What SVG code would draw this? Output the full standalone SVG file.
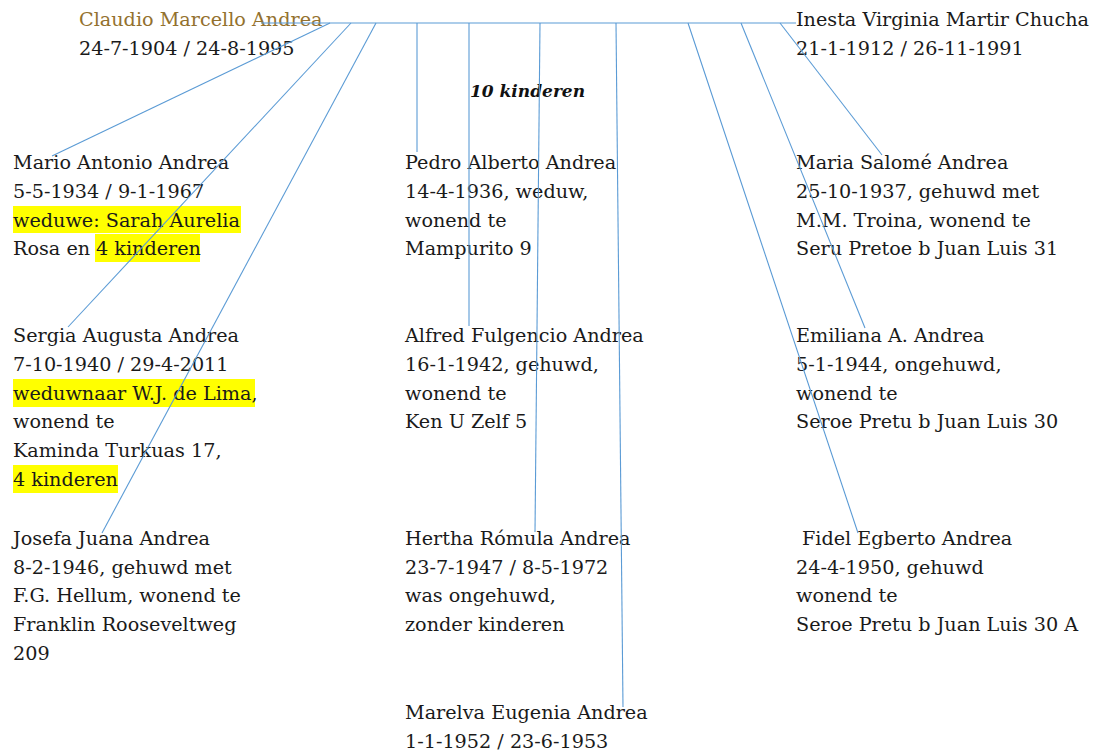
<svg xmlns="http://www.w3.org/2000/svg" width="1094" height="752" viewBox="0 0 1094 752">
<style>
text{font-family:"DejaVu Serif","Liberation Serif",serif;font-size:19.2px;fill:#1a1a1a}
.parent{fill:#93712e}
.count{font-weight:bold;font-style:italic;font-size:17px;fill:#111}
.hl{fill:#ffff00}
.con line{stroke:#5b9bd5;stroke-width:1.1;fill:none}
</style>
<rect width="1094" height="752" fill="#ffffff"/>
<g id="highlights">
<rect class="hl" x="13" y="206" width="228" height="27"/>
<rect class="hl" x="95" y="234" width="105" height="28"/>
<rect class="hl" x="13" y="379" width="242" height="28"/>
<rect class="hl" x="13" y="465" width="105" height="28"/>
</g>
<g id="father">
<text x="79" y="26" class="parent">Claudio Marcello Andrea</text>
<text x="79" y="54.5">24-7-1904 / 24-8-1995</text>
</g>
<g id="mother">
<text x="796" y="26">Inesta Virginia Martir Chucha</text>
<text x="796" y="54.5">21-1-1912 / 26-11-1991</text>
</g>
<g id="count">
<text x="470" y="97" class="count">10 kinderen</text>
</g>
<g id="mario">
<text x="13" y="169">Mario Antonio Andrea</text>
<text x="13" y="198">5-5-1934 / 9-1-1967</text>
<text x="13" y="227">weduwe: Sarah Aurelia</text>
<text x="13" y="255">Rosa en <tspan x="96">4 kinderen</tspan></text>
</g>
<g id="pedro">
<text x="405" y="169">Pedro Alberto Andrea</text>
<text x="405" y="198">14-4-1936, weduw,</text>
<text x="405" y="227">wonend te</text>
<text x="405" y="255">Mampurito 9</text>
</g>
<g id="maria">
<text x="796" y="169">Maria Salomé Andrea</text>
<text x="796" y="198">25-10-1937, gehuwd met</text>
<text x="796" y="227">M.M. Troina, wonend te</text>
<text x="796" y="255">Seru Pretoe b Juan Luis 31</text>
</g>
<g id="sergia">
<text x="13" y="342">Sergia Augusta Andrea</text>
<text x="13" y="371">7-10-1940 / 29-4-2011</text>
<text x="13" y="400">weduwnaar W.J. de Lima,</text>
<text x="13" y="428">wonend te</text>
<text x="13" y="457">Kaminda Turkuas 17,</text>
<text x="13" y="486">4 kinderen</text>
</g>
<g id="alfred">
<text x="405" y="342">Alfred Fulgencio Andrea</text>
<text x="405" y="371">16-1-1942, gehuwd,</text>
<text x="405" y="400">wonend te</text>
<text x="405" y="428">Ken U Zelf 5</text>
</g>
<g id="emiliana">
<text x="796" y="342">Emiliana A. Andrea</text>
<text x="796" y="371">5-1-1944, ongehuwd,</text>
<text x="796" y="400">wonend te</text>
<text x="796" y="428">Seroe Pretu b Juan Luis 30</text>
</g>
<g id="josefa">
<text x="13" y="545">Josefa Juana Andrea</text>
<text x="13" y="574">8-2-1946, gehuwd met</text>
<text x="13" y="602">F.G. Hellum, wonend te</text>
<text x="13" y="631">Franklin Rooseveltweg</text>
<text x="13" y="660">209</text>
</g>
<g id="hertha">
<text x="405" y="545">Hertha Rómula Andrea</text>
<text x="405" y="574">23-7-1947 / 8-5-1972</text>
<text x="405" y="602">was ongehuwd,</text>
<text x="405" y="631">zonder kinderen</text>
</g>
<g id="fidel">
<text x="802" y="545">Fidel Egberto Andrea</text>
<text x="796" y="574">24-4-1950, gehuwd</text>
<text x="796" y="602">wonend te</text>
<text x="796" y="631">Seroe Pretu b Juan Luis 30 A</text>
</g>
<g id="marelva">
<text x="405" y="719">Marelva Eugenia Andrea</text>
<text x="405" y="748">1-1-1952 / 23-6-1953</text>
</g>
<g id="connectors" class="con">
<line x1="261" y1="23" x2="796" y2="23"/>
<line x1="330" y1="23" x2="52" y2="156"/>
<line x1="351" y1="23" x2="68" y2="327"/>
<line x1="376" y1="23" x2="102" y2="533"/>
<line x1="417" y1="23" x2="417" y2="152"/>
<line x1="469" y1="23" x2="469" y2="326"/>
<line x1="540" y1="23" x2="535" y2="532"/>
<line x1="616" y1="23" x2="623" y2="707"/>
<line x1="688" y1="23" x2="858" y2="533"/>
<line x1="741" y1="23" x2="865" y2="328"/>
<line x1="780" y1="23" x2="882" y2="155"/>
</g>
</svg>
